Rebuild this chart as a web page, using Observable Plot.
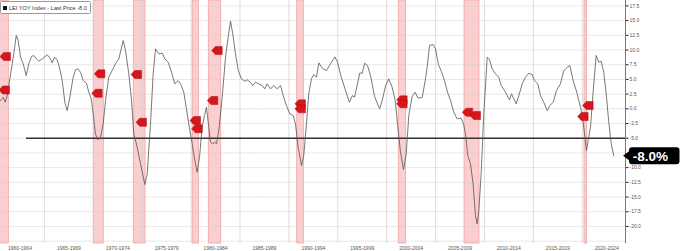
<!DOCTYPE html>
<html><head><meta charset="utf-8">
<script src="https://cdn.jsdelivr.net/npm/d3@7"></script>
<script src="https://cdn.jsdelivr.net/npm/@observablehq/plot@0.6"></script>
<style>
body{margin:0;background:#fff;}
#wrap{position:relative;width:680px;height:251px;overflow:hidden;}
#legend{position:absolute;left:0px;top:1px;height:11px;padding:0 3px 0 2px;border:1px solid #9a9a9a;background:#fff;font:5.6px "Liberation Sans",Arial,sans-serif;color:#333;display:flex;align-items:center;gap:2px;border-radius:1.5px;white-space:nowrap}
#legend .sw{display:inline-block;width:4px;height:4px;background:#111;}
</style></head><body>
<div id="wrap"><div id="chart"></div><div id="legend"><span class="sw"></span><span id="legtext"></span></div></div>
<script>
// ---- data ----
const dates = [1960.51,1960.79,1960.99,1961.20,1961.36,1961.71,1961.87,1962.12,1962.32,1962.56,1962.83,1963.14,1963.40,1963.68,1963.92,1964.19,1964.43,1964.78,1965.29,1965.55,1965.80,1966.03,1966.31,1966.57,1966.82,1967.09,1967.33,1967.60,1967.94,1968.18,1968.42,1968.69,1968.97,1969.30,1969.54,1969.79,1969.99,1970.22,1970.46,1970.74,1971.01,1971.25,1971.58,1971.93,1972.27,1972.61,1973.06,1973.29,1973.63,1973.91,1974.14,1974.49,1974.83,1975.27,1975.51,1975.85,1976.12,1976.36,1976.70,1977.05,1977.31,1977.66,1978.00,1978.33,1978.68,1978.92,1979.25,1979.50,1979.76,1980.11,1980.38,1980.62,1980.86,1981.13,1981.37,1981.57,1981.81,1981.98,1982.22,1982.42,1982.60,1982.83,1983.18,1983.52,1983.79,1984.03,1984.26,1984.54,1984.82,1985.15,1985.49,1985.73,1986.07,1986.31,1986.58,1986.92,1987.27,1987.54,1987.78,1988.12,1988.46,1988.81,1989.14,1989.42,1989.75,1990.09,1990.44,1990.67,1990.95,1991.29,1991.52,1991.77,1992.03,1992.31,1992.55,1992.82,1993.06,1993.44,1993.85,1994.25,1994.71,1994.97,1995.38,1995.79,1996.19,1996.50,1996.71,1996.98,1997.25,1997.50,1997.75,1998.04,1998.35,1998.76,1999.27,1999.54,1999.88,2000.21,2000.56,2000.90,2001.14,2001.41,2001.72,2002.00,2002.26,2002.60,2002.91,2003.20,2003.63,2003.92,2004.14,2004.38,2004.75,2004.99,2005.29,2005.60,2005.91,2006.22,2006.53,2006.86,2007.21,2007.60,2007.85,2008.06,2008.29,2008.57,2008.84,2009.08,2009.25,2009.42,2009.66,2009.93,2010.28,2010.51,2010.79,2011.12,2011.46,2011.71,2012.05,2012.32,2012.56,2012.76,2013.00,2013.24,2013.51,2013.86,2014.19,2014.53,2014.88,2015.11,2015.45,2015.73,2016.06,2016.41,2016.68,2017.03,2017.36,2017.77,2018.11,2018.46,2018.73,2019.07,2019.48,2019.82,2020.05,2020.23,2020.43,2020.60,2020.84,2021.12,2021.42,2021.69,2021.93,2022.20,2022.48,2022.71,2022.96,2023.22,2023.47];
const leiYoY = [1.41,1.97,1.12,2.26,3.96,7.65,9.35,12.47,11.61,8.78,7.65,5.66,7.65,8.89,9.06,8.50,8.10,8.50,9.18,8.67,7.82,8.78,8.33,6.80,4.81,1.12,-0.29,1.97,5.37,6.63,6.80,6.22,4.81,4.35,2.82,1.70,-0.85,-4.25,-5.27,-4.83,-2.55,1.41,5.37,6.51,7.65,8.50,11.61,9.91,5.95,1.41,-4.25,-6.53,-9.35,-12.87,-11.05,-2.55,5.95,10.20,9.35,9.46,8.50,7.93,6.22,4.25,4.81,4.25,2.82,0.27,-2.55,-5.95,-8.79,-10.78,-8.23,-3.13,-1.14,0.27,-3.13,-5.68,-5.95,-5.68,-5.95,-3.69,1.97,8.78,12.18,14.90,12.76,9.35,6.51,5.10,4.69,4.93,4.52,3.96,4.52,4.25,3.96,3.40,4.25,3.40,3.96,3.40,3.96,2.26,0.56,-0.85,-1.14,-2.55,-6.53,-9.64,-7.94,-3.13,2.55,5.10,5.83,5.37,7.82,6.85,6.51,7.65,8.84,7.93,5.24,3.11,1.12,2.26,1.97,3.96,6.09,6.05,7.76,7.36,5.66,2.09,0.00,1.41,3.88,5.10,3.67,1.16,-3.13,-7.35,-10.32,-7.65,-1.14,2.09,2.82,1.84,1.92,4.64,7.07,10.77,10.94,10.20,7.53,6.34,4.81,2.82,1.41,-0.58,-1.70,-1.56,-2.50,-4.25,-7.94,-9.35,-12.76,-18.15,-19.56,-17.30,-11.05,-0.85,8.78,8.33,6.80,5.95,5.37,3.96,3.11,2.26,1.53,2.55,1.70,0.85,2.26,4.25,5.37,6.05,5.83,4.81,4.25,2.26,1.12,-0.29,0.56,1.12,3.11,4.25,6.51,7.07,7.36,4.81,2.55,0.27,-1.70,-4.25,-7.09,-5.39,-3.13,3.11,9.06,7.93,8.10,6.22,1.97,-2.28,-5.95,-8.00];
const recessionStart = [1960.40,1970.05,1974.14,1980.17,1981.81,1990.85,2001.24,2007.96,2020.23];
const recessionEnd   = [1961.36,1971.07,1975.34,1980.79,1983.08,1991.53,2001.99,2009.49,2020.50];
const markerDates  = [1961.02,1960.92,1970.67,1970.40,1974.42,1974.93,1980.45,1980.62,1982.67,1982.22,1991.18,1991.18,2001.58,2001.58,2008.29,2009.08,2020.09,2020.60];
const markerValues = [8.9,3.2,5.95,2.65,5.83,-2.28,-2.0,-3.4,9.9,1.41,0.85,0.0,1.53,0.85,-0.58,-1.14,-1.31,0.56];
const yTickValues = [17.5,15,12.5,10,7.5,5,2.5,0,-2.5,-5,-7.5,-10,-12.5,-15,-17.5,-20];
const gridYears = [1965,1970,1975,1980,1985,1990,1995,2000,2005,2010,2015,2020];
const xTickLabels = ["1960-1964","1965-1969","1970-1974","1975-1979","1980-1984","1985-1989","1990-1994","1995-1999","2000-2004","2005-2009","2010-2014","2015-2019","2020-2024"];
const xTickCenters = [1962.5,1967.5,1972.5,1977.5,1982.5,1987.5,1992.5,1997.5,2002.5,2007.5,2012.5,2017.5,2022.5];
const referenceLevel = [-5];
const referenceStart = 1963.17;
const seriesName = "LEI YOY Index";

// ---- build ----
const rows = dates.map((t,i)=>({t, v: leiYoY[i]}));
const recs = recessionStart.map((s,i)=>({s, e: recessionEnd[i]}));
const markers = markerDates.map((t,i)=>({t, v: markerValues[i]}));
const lastVal = leiYoY[leiYoY.length-1];
const xDomain = [1960.51, 2024.42];
document.getElementById("legtext").textContent = `${seriesName} - Last Price ${lastVal.toFixed(1)}`;
// the last-price box covers the tick label nearest the last value
const labelledTicks = yTickValues.filter(v => Math.abs(v - lastVal) > 1.5);

const flag = {draw(c){ c.moveTo(-5.5,0); c.lineTo(-1.8,-4); c.lineTo(5,-4); c.lineTo(5,4); c.lineTo(-1.8,4); c.closePath(); }};
const priceBox = {draw(c){
  const x0=3.5,x1=54,y0=-8.5,y1=8.5,r=3;
  c.moveTo(-2.5,0); c.lineTo(x0,-4.5); c.lineTo(x0,y0+r);
  c.quadraticCurveTo(x0,y0,x0+r,y0); c.lineTo(x1-r,y0); c.quadraticCurveTo(x1,y0,x1,y0+r);
  c.lineTo(x1,y1-r); c.quadraticCurveTo(x1,y1,x1-r,y1); c.lineTo(x0+r,y1); c.quadraticCurveTo(x0,y1,x0,y1-r);
  c.lineTo(x0,4.5); c.closePath();
}};

const chart = Plot.plot({
  width:680, height:251,
  marginLeft:0, marginRight:55, marginTop:0, marginBottom:8,
  x:{domain:xDomain, label:null},
  y:{domain:[-22.9,18.42], label:null},
  style:{fontFamily:"'Liberation Sans', Arial, sans-serif", background:"#fff", overflow:"visible"},
  marks:[
    Plot.rect(recs,{x1:"s",x2:"e",fill:"#fbcfcf",stroke:"#f2a3a3",strokeWidth:0.8}),
    Plot.ruleY(yTickValues.concat([-22.5]),{stroke:"#cfcfcf",strokeWidth:0.6,strokeOpacity:0.8}),
    Plot.ruleX(gridYears,{stroke:"#cfcfcf",strokeWidth:0.7}),
    Plot.ruleY(referenceLevel,{x1:referenceStart,x2:xDomain[1],stroke:"#333",strokeWidth:1.3}),
    Plot.line(rows,{x:"t",y:"v",stroke:"#555",strokeWidth:0.8}),
    Plot.dot(markers,{x:"t",y:"v",symbol:flag,r:4,fill:"#d9151c",stroke:"#a30d12",strokeWidth:0.5}),
    Plot.ruleX([xDomain[1]],{stroke:"#555",strokeWidth:0.8}),
    Plot.axisY({anchor:"right",ticks:labelledTicks,tickSize:2.5,tickPadding:1.5,tickFormat:d=>d.toFixed(1),fontSize:5,stroke:"#222",fill:"#555",label:null}),
    Plot.axisX({ticks:xTickCenters,tickSize:0,tickPadding:2.5,tickFormat:(d)=>xTickLabels[xTickCenters.indexOf(d)],fontSize:5,fill:"#555",label:null}),
    Plot.dot([lastVal],{y:d=>d,frameAnchor:"right",symbol:priceBox,r:4,fill:"#000",stroke:"none"}),
    Plot.text([lastVal],{y:d=>d,frameAnchor:"right",dx:25,dy:0.5,text:d=>d.toFixed(1)+"%",fill:"#fff",fontSize:13.5,fontWeight:"bold",textAnchor:"middle"})
  ]
});
document.getElementById("chart").append(chart);
</script>
</body></html>
